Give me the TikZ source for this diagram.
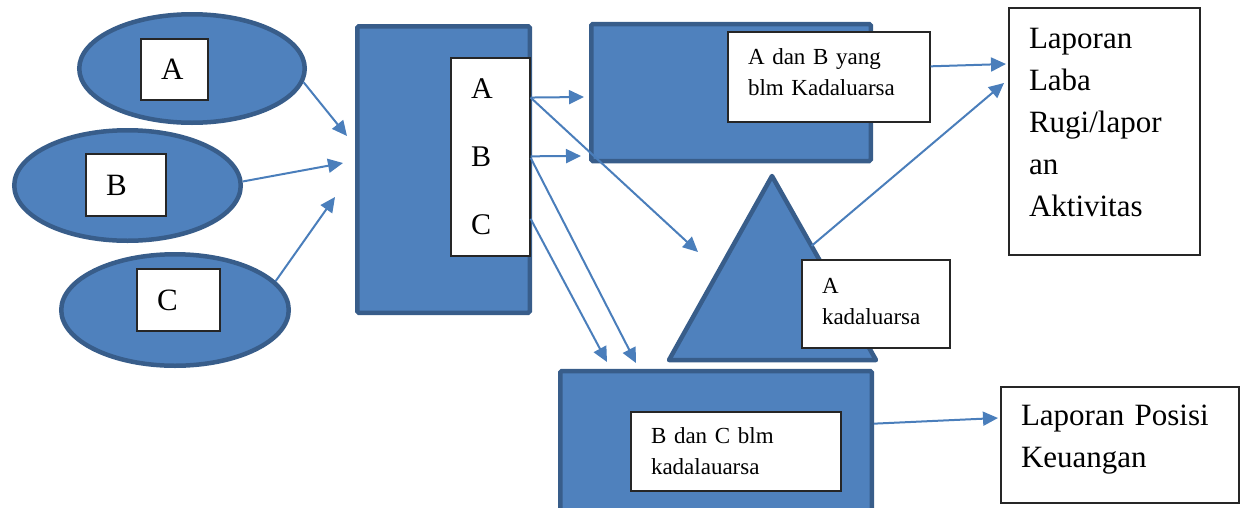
\documentclass[tikz,border=0pt]{standalone}
\usepackage{fontspec}
\setmainfont{Liberation Serif}
\usetikzlibrary{arrows.meta,shapes.geometric,calc}
\definecolor{shpfill}{HTML}{4F81BD}
\definecolor{shpline}{HTML}{385D8A}
\definecolor{arrowblue}{HTML}{4A7EBB}

\begin{document}
\begin{tikzpicture}[x=1pt,y=-1pt,
 shp/.style={fill=shpfill,draw=shpline,line width=4.5pt},
 ell/.style={shp,ellipse,inner sep=0pt},
 blk/.style={shp,rectangle,rounded corners=1.5pt,inner sep=0pt},
 txt/.style={draw=black!85,fill=white,line width=1.2pt,align=left,inner xsep=20pt,inner ysep=0pt,font=\fontsize{23}{31}\selectfont},
 big/.style={txt,font=\fontsize{31}{42}\selectfont},
 flow/.style={draw=arrowblue,line width=2pt,-{Triangle[length=15pt,width=14pt]}}]
\useasboundingbox (0,0) rectangle (1243,507);
\clip (0,0) rectangle (1243,507);
% the three items
\node[ell,minimum width=225.5pt,minimum height=108.5pt] (ellA) at (192,68.5) {};
\node[ell,minimum width=226.5pt,minimum height=110.5pt] (ellB) at (127.5,185.5) {};
\node[ell,minimum width=227.5pt,minimum height=111.5pt] (ellC) at (175,310) {};
\node[big,text width=27pt,minimum height=61pt] (boxA) at (174.5,69.5) {A};
\node[big,text width=40pt,minimum height=62pt] (boxB) at (126,185) {B};
\node[big,text width=43pt,minimum height=62pt] (boxC) at (178.5,300) {C};
% store
\node[blk,minimum width=172.5pt,minimum height=286.5pt] (store) at (443.5,169.5) {};
\node[big,text width=39pt,minimum height=198pt,font=\fontsize{30}{68}\selectfont] (abc) at (490.5,157) {A\\B\\C};
% not expired A and B
\node[blk,minimum width=279.5pt,minimum height=137pt] (okAB) at (731,92.5) {};
\node[txt,text width=162pt,minimum height=90pt,text depth=40pt] (okABtxt) at (829,77) {A dan B yang\\blm Kadaluarsa};
% expired A
\coordinate (triT) at (772,176);
\coordinate (triL) at (669,360);
\coordinate (triR) at (876,360);
\filldraw[shp,line join=round] (triL) -- (triT) -- (triR) -- cycle;
\coordinate (triEdge) at ($(triT)!0.38!(triR)$);
\node[txt,text width=108pt,minimum height=88pt,text depth=37pt] (expA) at (876,304) {A\\kadaluarsa};
% not expired B and C
\node[blk,minimum width=311.5pt,minimum height=190pt] (okBC) at (716,466) {};
\node[txt,text width=170pt,minimum height=79pt] (okBCtxt) at (736,451.5) {B dan C blm\\kadalauarsa};
% reports
\node[big,text width=151pt,minimum height=247pt,text depth=187pt] (labaRugi) at (1104.5,131.5) {Laporan\\Laba\\Rugi/lapor\\an\\Aktivitas};
\node[big,text width=198pt,minimum height=116pt,text depth=59pt] (posisi) at (1120,445) {Laporan Posisi\\Keuangan};
% arrow ends
\coordinate (inA) at (347,136);
\coordinate (inB) at (343,163);
\coordinate (inC) at (335,197);
\coordinate (toAB1) at (584,97);
\coordinate (toAB2) at (581,156);
\coordinate (toTri) at (698,252);
\coordinate (toBC1) at (636,363);
\coordinate (toBC2) at (607,362);
\coordinate (toRep1) at (1006,64);
\coordinate (toRep2) at (1004,83);
\coordinate (toPos) at (998,418);
\draw[flow] (ellA.-7) -- (inA);
\draw[flow] (ellB.2) -- (inB);
\draw[flow] (ellC.16) -- (inC);
\draw[flow] (abc.56) -- (toAB1);
\draw[flow] (abc.1) -- (toAB2);
\draw[flow] (abc.56) -- (toTri);
\draw[flow] (abc.-1) -- (toBC1);
\draw[flow] (abc.-57) -- (toBC2);
\draw[flow] (okABtxt.6) -- (toRep1);
\draw[flow] (triEdge) -- (toRep2);
\draw[flow] (okBC.15) -- (toPos);
\end{tikzpicture}
\end{document}
